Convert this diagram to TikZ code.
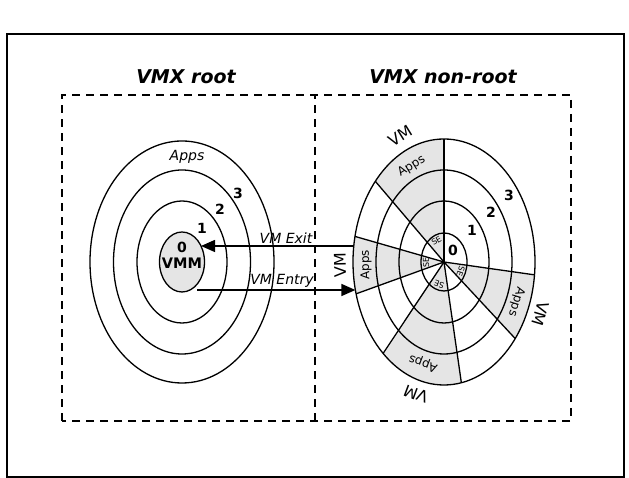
\documentclass[tikz,border=0pt]{standalone}
\usepackage{fontspec}
\setmainfont{DejaVu Sans}
\usetikzlibrary{arrows.meta}
\begin{document}
\begin{tikzpicture}[x=1pt,y=1pt,line width=1.3pt,
  dashbox/.style={line width=1.3pt,dash pattern=on 8pt off 6pt},
  greyfill/.style={fill=gray!20},
  title/.style={font=\fontsize{19}{22}\selectfont\bfseries\itshape},
  ring/.style={font=\fontsize{14}{16}\selectfont\bfseries},
  arrlabel/.style={font=\fontsize{14}{16}\selectfont\itshape,anchor=south,inner sep=1.5pt},
  vmlabel/.style={font=\fontsize{16}{18}\selectfont,inner sep=0pt},
  appslabel/.style={font=\fontsize{12}{14}\selectfont,inner sep=0pt},
  selabel/.style={font=\fontsize{8}{9}\selectfont,inner sep=0pt},
  flow/.style={line width=1.4pt,-{Triangle[length=14pt,width=12pt]}}]
\useasboundingbox (0,0) rectangle (629,478);
% frame and boxes
\draw[line width=1.2pt] (7,1) rectangle (624,444);
\draw[dashbox] (62,57) rectangle (571,383);
\draw[dashbox] (315,57) -- (315,383);
\node[title] (troot) at (186,401) {VMX root};
\node[title] (tnonroot) at (443,401) {VMX non-root};
% left wheel
\begin{scope}[shift={(182,216)}]
  \fill[greyfill] (0,0) ellipse[x radius=22.5,y radius=30];
  \draw (0,0) ellipse[x radius=22.5,y radius=30];
  \draw (0,0) ellipse[x radius=45,y radius=61];
  \draw (0,0) ellipse[x radius=68.5,y radius=92];
  \draw (0,0) ellipse[x radius=92,y radius=121];
  \node[ring] (lzero) at (0,15) {0};
  \node[font=\fontsize{14.5}{16}\selectfont\bfseries] (vmm) at (0,-1) {VMM};
  \node[ring] (lone) at (20,34) {1};
  \node[ring] (ltwo) at (38,53) {2};
  \node[ring] (lthree) at (56,69) {3};
  \node[font=\fontsize{14}{16}\selectfont\itshape] (lapps) at (5,105) {Apps};
  \coordinate (vmmexit) at (19,16);
  \coordinate (vmmentry) at (15,-28);
\end{scope}
% right wheel
\begin{scope}[shift={(444,216)}]
  \foreach \a/\b in {90/139,168/195,228/281,321.5/354}
    \fill[greyfill] (0,0) -- (\a:91 and 123) arc[start angle=\a,end angle=\b,x radius=91,y radius=123] -- cycle;
  \draw (0,0) ellipse[x radius=23,y radius=29];
  \draw (0,0) ellipse[x radius=45,y radius=61];
  \draw (0,0) ellipse[x radius=68,y radius=92];
  \draw (0,0) ellipse[x radius=91,y radius=123];
  \foreach \a in {90,139,168,195,228,281,321.5,354}
    \draw (0,0) -- (\a:91 and 123);
  \node[ring] (rzero) at (9,12) {0};
  \node[ring] (rone) at (28,32) {1};
  \node[ring] (rtwo) at (47,50) {2};
  \node[ring] (rthree) at (65,67) {3};
  % VM labels
  \node[vmlabel,rotate=31.6] (vma) at (-44,126) {VM};
  \node[vmlabel,rotate=91.1] (vmb) at (-104,-3.5) {VM};
  \node[vmlabel,rotate=159.4] (vmc) at (-28,-132) {VM};
  \node[vmlabel,rotate=-106.9] (vmd) at (96.5,-51.8) {VM};
  % Apps labels
  \node[appslabel,rotate=31.6] (appa) at (-32.3,95.6) {Apps};
  \node[appslabel,rotate=91] (appb) at (-78,-2.7) {Apps};
  \node[appslabel,rotate=159.4] (appc) at (-20.8,-101.2) {Apps};
  \node[appslabel,rotate=-106.9] (appd) at (72.2,-39.8) {Apps};
  % SE labels
  \node[selabel,rotate=29.9] (sea) at (-7.5,21.4) {SE};
  \node[selabel,rotate=91] (seb) at (-18,-0.6) {SE};
  \node[selabel,rotate=160.8] (sec) at (-4.8,-22.6) {SE};
  \node[selabel,rotate=-108] (sed) at (16.7,-8.9) {SE};
  \coordinate (wheelexit) at (-90.2,16);
  \coordinate (wheelentry) at (-88.6,-28);
\end{scope}
% transitions
\draw[flow] (wheelexit) -- (vmmexit);
\draw[flow] (vmmentry) -- (wheelentry);
\node[arrlabel] (exitlbl) at (286,232) {VM Exit};
\node[arrlabel] (entrylbl) at (282,188) {VM Entry};
\end{tikzpicture}
\end{document}
